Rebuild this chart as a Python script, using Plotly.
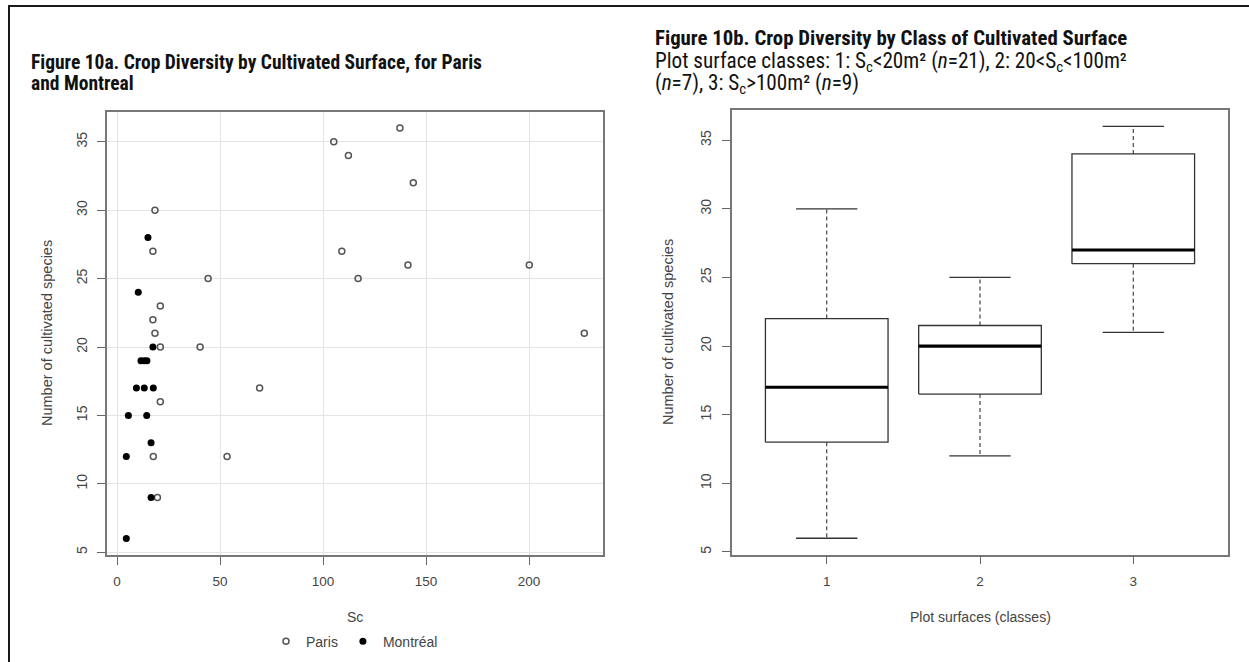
import plotly.graph_objects as go

# --- Figure 10a: crop diversity vs cultivated surface (Sc, m²) ---
paris_sc = [18.4, 17.4, 44.2, 21, 17.4, 18.4, 21, 40.3, 21, 69.2, 17.6, 53.4, 19.6,
            137.3, 105.2, 112.3, 143.8, 109.1, 141.2, 200.1, 117.0, 226.8]
paris_species = [30, 27, 25, 23, 22, 21, 20, 20, 16, 17, 12, 12, 9,
                 36, 35, 34, 32, 27, 26, 26, 25, 21]

montreal_sc = [15, 10.3, 17.4, 11.6, 13.2, 14.5, 9.4, 13.2, 17.6, 5.5, 14.4, 16.5, 4.5, 16.5, 4.5]
montreal_species = [28, 24, 20, 19, 19, 19, 17, 17, 17, 15, 15, 13, 12, 9, 6]

sc_ticks = [0, 50, 100, 150, 200]
species_ticks = [5, 10, 15, 20, 25, 30, 35]

# --- Figure 10b: box statistics per surface class ---
classes = [1, 2, 3]
class_labels = ["1", "2", "3"]
whisker_low = [6, 12, 21]
hinge_low = [13, 16.5, 26]
medians = [17, 20, 27]
hinge_high = [22, 21.5, 34]
whisker_high = [30, 25, 36]

W, H = 1249, 662


def px_x(v):
    return v / W


def px_y(v):
    return (H - v) / H


FONT = "Liberation Sans, Arial, sans-serif"
TITLE_FONT = "Liberation Sans Narrow, Arial Narrow, Roboto Condensed, Liberation Sans, sans-serif"
AX_COLOR = "#444444"
TITLE_COLOR = "#111111"

fig = go.Figure()

fig.add_trace(go.Scatter(
    x=paris_sc, y=paris_species, mode="markers", name="Paris",
    marker=dict(symbol="circle-open", size=6, color="#555555", line=dict(width=1.5)),
    xaxis="x", yaxis="y",
))
fig.add_trace(go.Scatter(
    x=montreal_sc, y=montreal_species, mode="markers", name="Montréal",
    marker=dict(symbol="circle", size=7, color="#000000"),
    xaxis="x", yaxis="y",
))

# Box plots drawn R-style: box, thick median, dashed whiskers, short caps
half_box = 0.4
half_cap = 0.2
box_line = "#333333"
for c, lo, q1, md, q3, hi in zip(classes, whisker_low, hinge_low, medians, hinge_high, whisker_high):
    fig.add_trace(go.Scatter(
        x=[c - half_box, c + half_box, c + half_box, c - half_box, c - half_box],
        y=[q1, q1, q3, q3, q1], mode="lines",
        line=dict(color=box_line, width=1.3), showlegend=False,
        xaxis="x2", yaxis="y2", hoverinfo="skip",
    ))
    fig.add_trace(go.Scatter(
        x=[c - half_box, c + half_box], y=[md, md], mode="lines",
        line=dict(color="#000000", width=3.2), showlegend=False,
        xaxis="x2", yaxis="y2",
    ))
    fig.add_trace(go.Scatter(
        x=[c, c, None, c, c], y=[q3, hi, None, q1, lo], mode="lines",
        line=dict(color=box_line, width=1.1, dash="4px,3px"), showlegend=False,
        xaxis="x2", yaxis="y2", hoverinfo="skip",
    ))
    fig.add_trace(go.Scatter(
        x=[c - half_cap, c + half_cap, None, c - half_cap, c + half_cap],
        y=[hi, hi, None, lo, lo], mode="lines",
        line=dict(color=box_line, width=1.3), showlegend=False,
        xaxis="x2", yaxis="y2", hoverinfo="skip",
    ))

axis_common = dict(
    showline=True, mirror=True, linecolor="#777777", linewidth=1.5,
    ticks="outside", ticklen=8, tickwidth=1, tickcolor="#666666",
    zeroline=False,
)
x_tickfont = dict(family=FONT, size=13.5, color=AX_COLOR)
y_tickfont = dict(family=FONT, size=14, color=AX_COLOR)

fig.update_layout(
    width=W, height=H,
    margin=dict(l=0, r=0, t=0, b=0),
    paper_bgcolor="white", plot_bgcolor="white",
    font=dict(family=FONT, size=14, color=AX_COLOR),
    xaxis=dict(domain=[px_x(107), px_x(603)], range=[-4.88, 235.88],
               tickvals=sc_ticks, showgrid=True, gridcolor="#e4e4e4", gridwidth=1,
               anchor="y", tickfont=x_tickfont, ticklabelstandoff=5, **axis_common),
    yaxis=dict(domain=[px_y(555), px_y(111.7)], range=[4.8, 37.2],
               tickvals=species_ticks, tickangle=-90, showgrid=True,
               gridcolor="#e4e4e4", gridwidth=1, anchor="x",
               tickfont=y_tickfont, ticklabelstandoff=5, **axis_common),
    xaxis2=dict(domain=[px_x(731.7), px_x(1228.3)], range=[0.38, 3.62],
                tickvals=classes, ticktext=class_labels, showgrid=False,
                anchor="y2", tickfont=x_tickfont, ticklabelstandoff=5, **axis_common),
    yaxis2=dict(domain=[px_y(554.7), px_y(110)], range=[4.8, 37.2],
                tickvals=species_ticks, tickangle=-90, showgrid=False,
                anchor="x2", tickfont=y_tickfont, ticklabelstandoff=5, **axis_common),
    legend=dict(orientation="h", x=px_x(266), y=px_y(641.7), xanchor="left",
                yanchor="middle", font=dict(family=FONT, size=14, color=AX_COLOR),
                bgcolor="rgba(0,0,0,0)", itemclick=False),
    showlegend=True,
)


def title_line(text, x, y, size, bold=False):
    return dict(text=f"<b>{text}</b>" if bold else text, x=px_x(x), y=px_y(y),
                xanchor="left", yanchor="middle", align="left",
                font=dict(family=TITLE_FONT, size=size, color=TITLE_COLOR))


annotations = [
    title_line("Figure 10a. Crop Diversity by Cultivated Surface, for Paris", 29, 62, 19.5, bold=True),
    title_line("and Montreal", 29, 83, 19.5, bold=True),
    title_line("Figure 10b. Crop Diversity by Class of Cultivated Surface", 653, 38, 20.8, bold=True),
    title_line("Plot surface classes: 1: S<sub>c</sub>&lt;20m² (<i>n</i>=21), 2: 20&lt;S<sub>c</sub>&lt;100m²",
               653, 62, 21.2),
    title_line("(<i>n</i>=7), 3: S<sub>c</sub>&gt;100m² (<i>n</i>=9)", 653, 84, 21.2),
    dict(text="Sc", x=px_x(355), y=px_y(617), xanchor="center", yanchor="middle",
         font=dict(family=FONT, size=14, color=AX_COLOR)),
    dict(text="Number of cultivated species", x=px_x(47), y=px_y(333), textangle=-90,
         xanchor="center", yanchor="middle", font=dict(family=FONT, size=14.5, color=AX_COLOR)),
    dict(text="Plot surfaces (classes)", x=px_x(980), y=px_y(617), xanchor="center",
         yanchor="middle", font=dict(family=FONT, size=14, color=AX_COLOR)),
    dict(text="Number of cultivated species", x=px_x(668), y=px_y(332), textangle=-90,
         xanchor="center", yanchor="middle", font=dict(family=FONT, size=14.5, color=AX_COLOR)),
]
for a in annotations:
    a.update(xref="paper", yref="paper", showarrow=False)
fig.update_layout(annotations=annotations)

# Page frame: rule along the top and the left edge
fig.add_shape(type="line", xref="paper", yref="paper", x0=px_x(8), x1=1, y0=px_y(6), y1=px_y(6),
              line=dict(color="#1a1a1a", width=2))
fig.add_shape(type="line", xref="paper", yref="paper", x0=px_x(9), x1=px_x(9), y0=0, y1=px_y(6),
              line=dict(color="#1a1a1a", width=2))

fig.write_html("out.html")
